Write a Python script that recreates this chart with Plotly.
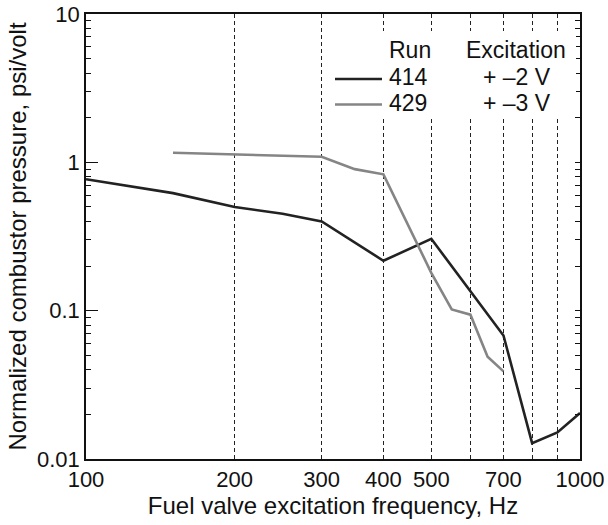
import plotly.graph_objects as go

# Run 414 (dark)
freq_414 = [100, 150, 200, 250, 300, 400, 500, 700, 800, 900, 1000]
p_414 = [0.77, 0.62, 0.50, 0.45, 0.40, 0.217, 0.305, 0.068, 0.0128, 0.0151, 0.0204]
# Run 429 (gray)
freq_429 = [150, 200, 300, 350, 400, 500, 550, 600, 650, 700]
p_429 = [1.16, 1.13, 1.09, 0.90, 0.83, 0.18, 0.102, 0.094, 0.049, 0.039]

x_ticks = [100, 200, 300, 400, 500, 600, 700, 800, 900, 1000]
x_ticktext = ["100", "200", "300", "400", "500", "", "700", "", "", "1000"]
y_major = [0.01, 0.1, 1, 10]
y_major_text = ["0.01", "0.1", "1", "10"]

y_minor = []
for dec in [0.01, 0.1, 1]:
    for k in range(2, 10):
        y_minor.append(round(dec * k, 4))

FONT = "Liberation Sans, Arial, sans-serif"

fig = go.Figure()
fig.add_trace(go.Scatter(x=freq_414, y=p_414, mode="lines",
                         line=dict(color="#222222", width=2.6), showlegend=False))
fig.add_trace(go.Scatter(x=freq_429, y=p_429, mode="lines",
                         line=dict(color="#858585", width=2.6), showlegend=False))

fig.update_layout(
    width=608, height=525,
    margin=dict(l=86, r=28, t=14, b=66, autoexpand=False),
    paper_bgcolor="white", plot_bgcolor="white",
    font=dict(family=FONT, color="#111111"),
    xaxis=dict(type="log", range=[2, 3], tickvals=x_ticks, ticktext=x_ticktext,
               ticks="", showgrid=True, gridcolor="#222222", gridwidth=1,
               griddash="4px,3px", showline=True, linecolor="#111111", linewidth=1.5,
               mirror=True, tickfont=dict(size=22), zeroline=False, automargin=False,
               title=dict(text="Fuel valve excitation frequency, Hz",
                          font=dict(size=24), standoff=6)),
    yaxis=dict(type="log", range=[-2, 1], tickvals=y_minor + y_major,
               ticktext=[""] * len(y_minor) + y_major_text,
               ticks="inside", ticklen=5, tickwidth=1, tickcolor="#111111",
               showgrid=False, showline=True, linecolor="#111111", linewidth=1.5,
               mirror="ticks", tickfont=dict(size=22), zeroline=False, automargin=False,
               title=dict(text="Normalized combustor pressure, psi/volt",
                          font=dict(size=24), standoff=4)),
    yaxis2=dict(type="log", range=[-2, 1], overlaying="y", side="left",
                tickvals=[0.1, 1], ticks="inside", ticklen=12, tickwidth=1.2,
                tickcolor="#111111", showticklabels=False, showgrid=False,
                showline=False, zeroline=False, automargin=False),
)
# dummy trace to activate yaxis2
fig.add_trace(go.Scatter(x=[100], y=[1], yaxis="y2", mode="lines",
                         line=dict(width=0), showlegend=False, hoverinfo="skip"))

def px_x(xpx):
    return (xpx - 86) / 494

def px_y(ypx):
    return (459 - ypx) / 445

# white legend box that interrupts the grid lines
fig.add_shape(type="rect", xref="paper", yref="paper", layer="above",
              x0=px_x(330), x1=px_x(576), y0=px_y(116), y1=px_y(31),
              fillcolor="white", line=dict(width=0))

# Legend line samples
fig.add_shape(type="line", xref="paper", yref="paper", layer="above",
              x0=px_x(335), x1=px_x(382), y0=px_y(79), y1=px_y(79),
              line=dict(color="#222222", width=2.6))
fig.add_shape(type="line", xref="paper", yref="paper", layer="above",
              x0=px_x(335), x1=px_x(382), y0=px_y(104.5), y1=px_y(104.5),
              line=dict(color="#858585", width=2.6))

def ann(text, xpx, ypx, anchor="left"):
    fig.add_annotation(text=text, xref="paper", yref="paper",
                       x=px_x(xpx), y=px_y(ypx),
                       xanchor=anchor, yanchor="middle", showarrow=False,
                       font=dict(size=23, family=FONT, color="#111111"))

ann("Run", 387, 50)
ann("414", 387, 77)
ann("429", 387, 103)
ann("Excitation", 516, 50, "center")
ann("+ \u20132 V", 517, 77, "center")
ann("+ \u20133 V", 517, 103, "center")

fig.write_html("out.html")
